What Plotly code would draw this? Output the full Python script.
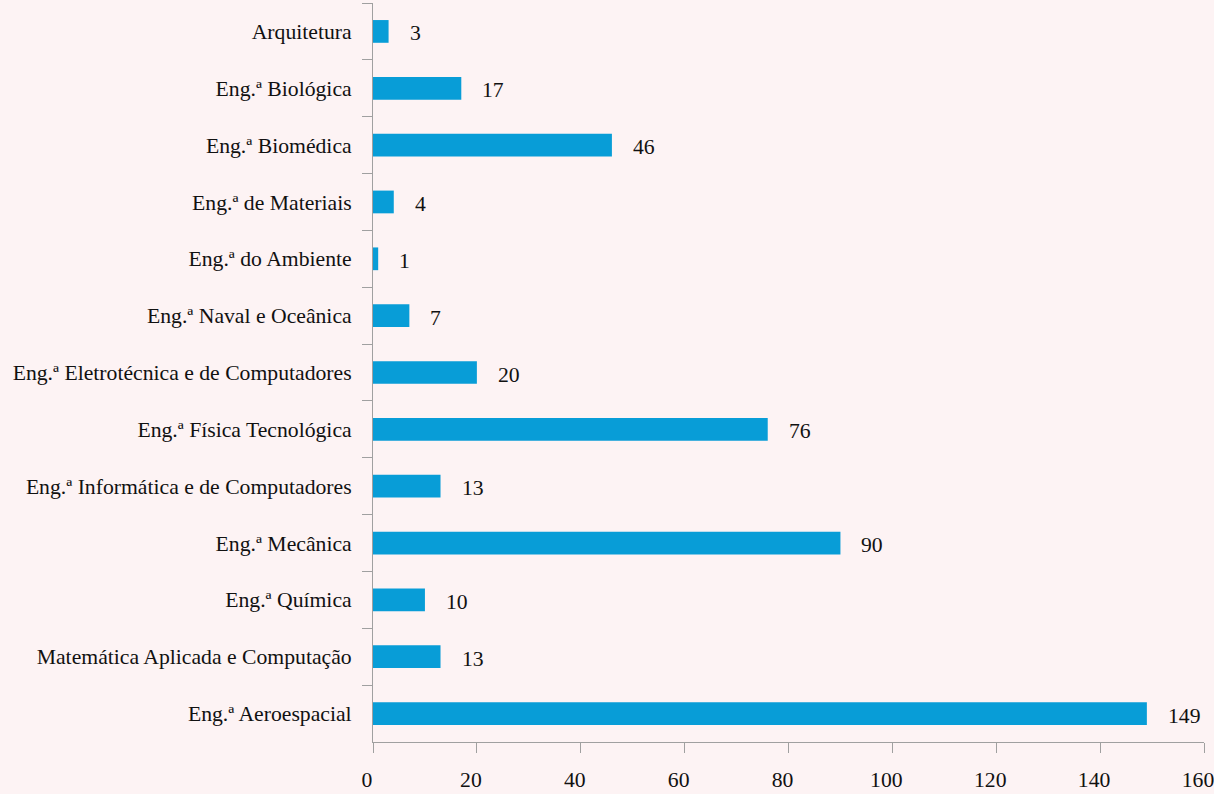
import plotly.graph_objects as go

categories = [
    "Arquitetura",
    "Eng.ª Biológica",
    "Eng.ª Biomédica",
    "Eng.ª de Materiais",
    "Eng.ª do Ambiente",
    "Eng.ª Naval e Oceânica",
    "Eng.ª Eletrotécnica e de Computadores",
    "Eng.ª Física Tecnológica",
    "Eng.ª Informática e de Computadores",
    "Eng.ª Mecânica",
    "Eng.ª Química",
    "Matemática Aplicada e Computação",
    "Eng.ª Aeroespacial",
]
values = [3, 17, 46, 4, 1, 7, 20, 76, 13, 90, 10, 13, 149]
x_ticks = [0, 20, 40, 60, 80, 100, 120, 140, 160]

BG = "#FDF3F4"
BAR = "#089DD7"
AXIS = "#A0A0A0"
FONT = "Liberation Serif"
FS = 21.7

fig = go.Figure()
fig.add_trace(go.Bar(
    x=values, y=categories, orientation="h",
    marker=dict(color=BAR, line=dict(width=0)),
    width=0.4,
    hoverinfo="x+y",
))
for c, v in zip(categories, values):
    fig.add_annotation(
        x=v, y=c, text=str(v), showarrow=False,
        xanchor="left", xshift=19, yshift=-2,
        font=dict(family=FONT, size=FS, color="#111"),
    )

fig.update_layout(
    width=1214, height=794,
    paper_bgcolor=BG, plot_bgcolor=BG,
    margin=dict(l=373, r=10, t=3, b=52),
    showlegend=False,
    font=dict(family=FONT, size=FS, color="#111"),
    xaxis=dict(
        range=[0, 160], tickvals=x_ticks, showgrid=False, zeroline=False,
        showline=True, linecolor=AXIS, linewidth=1,
        ticks="outside", ticklen=10, tickcolor=AXIS,
        ticklabelstandoff=8, ticklabelshift=-6, ticklabeloverflow="allow",
        automargin=False,
        tickfont=dict(family=FONT, size=FS, color="#111"),
    ),
    yaxis=dict(
        autorange="reversed", showgrid=False, zeroline=False,
        showline=True, linecolor=AXIS, linewidth=1,
        ticks="outside", ticklen=10, tickcolor=AXIS, tickson="boundaries",
        ticklabelstandoff=16, automargin=False,
        tickfont=dict(family=FONT, size=FS, color="#111"),
    ),
)

fig.write_html(
    "out.html",
    config={"displayModeBar": False},
    post_script="document.body.style.margin='0';document.body.style.background='#FDF3F4';",
)
